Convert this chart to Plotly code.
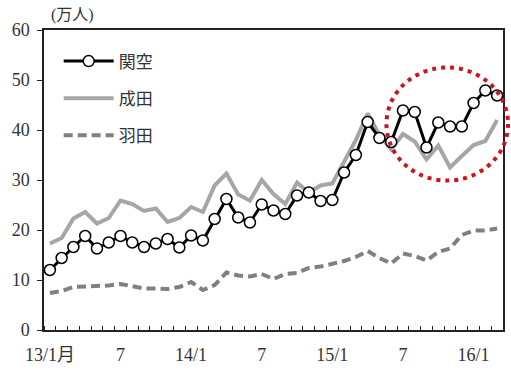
import plotly.graph_objects as go

months = list(range(39))  # 13/1 .. 16/3
tick_pos = [0, 6, 12, 18, 24, 30, 36]
tick_text = ["13/1月", "7", "14/1", "7", "15/1", "7", "16/1"]

kansai = [12.0, 14.4, 16.6, 18.8, 16.3, 17.5, 18.8, 17.5, 16.6, 17.3, 18.2, 16.5,
          18.9, 17.9, 22.2, 26.2, 22.5, 21.5, 25.1, 23.9, 23.2, 26.9, 27.5, 25.8,
          26.0, 31.5, 35.0, 41.6, 38.4, 37.6, 43.9, 43.6, 36.5, 41.5, 40.7, 40.7,
          45.4, 47.9, 46.9]
narita = [17.3, 18.4, 22.3, 23.6, 21.3, 22.4, 25.9, 25.2, 23.8, 24.3, 21.6, 22.4,
          24.6, 23.6, 28.9, 31.3, 27.1, 25.9, 30.0, 27.2, 25.2, 29.5, 27.5, 28.9,
          29.3, 33.6, 38.0, 43.3, 39.0, 36.1, 39.2, 37.7, 34.1, 36.9, 32.5, 34.8,
          37.0, 37.8, 42.0]
haneda = [7.4, 7.8, 8.6, 8.7, 8.7, 8.9, 9.2, 8.8, 8.3, 8.3, 8.2, 8.6,
          9.6, 8.0, 9.0, 11.5, 10.9, 10.7, 11.2, 10.2, 11.2, 11.4, 12.4, 12.7,
          13.2, 13.8, 14.6, 15.8, 14.4, 13.3, 15.3, 14.8, 13.9, 15.6, 16.3, 19.0,
          19.9, 19.9, 20.3]

names = ["関空", "成田", "羽田"]

serif = "Liberation Serif, DejaVu Serif, Noto Sans CJK JP, serif"

fig = go.Figure()
fig.add_trace(go.Scatter(
    x=months, y=haneda, name=names[2], mode="lines",
    line=dict(color="#808080", width=4, dash="9px,5px"), legendgroup="c",
    legendrank=3))
fig.add_trace(go.Scatter(
    x=months, y=narita, name=names[1], mode="lines",
    line=dict(color="#a6a6a6", width=4), legendgroup="b", legendrank=2))
fig.add_trace(go.Scatter(
    x=months, y=kansai, name=names[0], mode="lines+markers",
    line=dict(color="#000000", width=3),
    marker=dict(symbol="circle", size=11, color="#ffffff",
                line=dict(color="#000000", width=1.5)),
    legendgroup="a", legendrank=1))

fig.update_layout(
    width=511, height=371,
    margin=dict(l=44, r=6, t=30, b=36),
    paper_bgcolor="white", plot_bgcolor="white",
    font=dict(family=serif, size=17, color="#333333"),
    showlegend=True,
    legend=dict(x=0.032, y=0.955, xanchor="left", yanchor="top",
                bgcolor="rgba(0,0,0,0)", borderwidth=0,
                traceorder="grouped", tracegroupgap=12, itemwidth=50,
                font=dict(family=serif, size=17, color="#333333")),
    xaxis=dict(range=[-0.5, 38.5], tickmode="array", tickvals=tick_pos,
               ticktext=tick_text, ticks="", showgrid=False, zeroline=False,
               showline=True, linecolor="#222222", linewidth=1.5, mirror=True,
               ticklabelstandoff=8,
               tickfont=dict(family=serif, size=18, color="#333333"),
               minor=dict(ticks="inside", ticklen=4, tickcolor="#222222",
                          tickmode="linear", tick0=-0.5, dtick=1, showgrid=False)),
    yaxis=dict(range=[0, 60], tickmode="linear", tick0=0, dtick=10,
               ticks="outside", ticklen=5, tickcolor="#222222",
               showgrid=False, zeroline=False, showline=True,
               linecolor="#222222", linewidth=1.5, mirror=True,
               ticklabelstandoff=4,
               tickfont=dict(family=serif, size=18, color="#333333")),
    annotations=[dict(text="(万人)", xref="paper", yref="paper",
                      x=0.063, y=1.049, xanchor="center", yanchor="middle",
                      showarrow=False,
                      font=dict(family=serif, size=16, color="#333333"))],
    shapes=[dict(type="circle", xref="paper", yref="paper",
                 x0=0.746, x1=1.011, y0=0.498, y1=0.875,
                 line=dict(color="#d0121b", width=4, dash="4px,5px"))],
)

fig.write_html("out.html")
